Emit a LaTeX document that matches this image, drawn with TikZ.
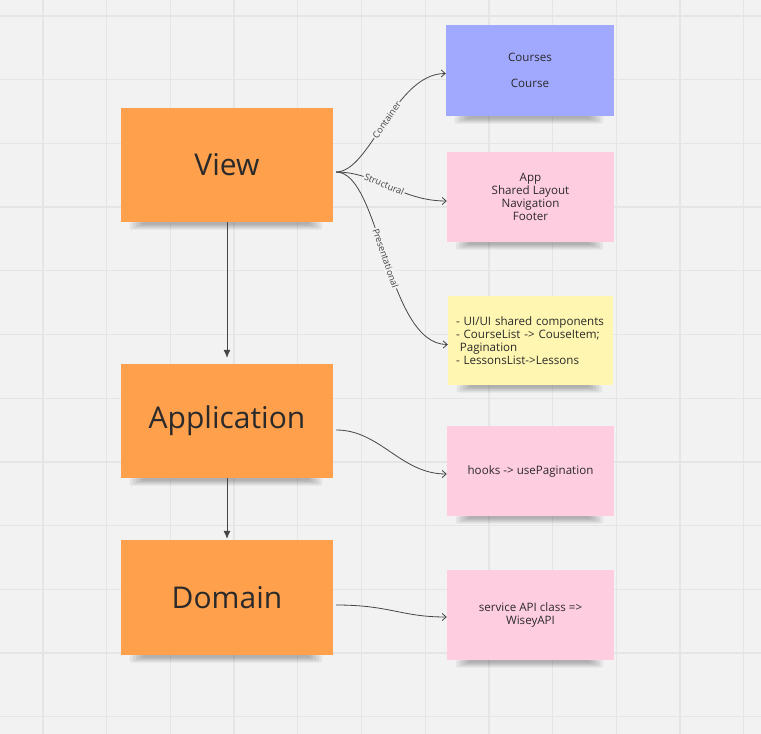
\documentclass[tikz,border=0pt]{standalone}
\usepackage{fontspec}
\setmainfont{Open Sans}
\usetikzlibrary{arrows.meta}
\definecolor{bg}{HTML}{F2F2F2}
\definecolor{gridc}{HTML}{E5E5E5}
\definecolor{orangec}{HTML}{FFA04C}
\definecolor{bluec}{HTML}{A1A9FF}
\definecolor{pinkc}{HTML}{FFCDE0}
\definecolor{yellowc}{HTML}{FFF6B2}
\definecolor{textc}{HTML}{2A2A2A}
\definecolor{linec}{HTML}{454545}
\newcommand{\stickyshadow}[1]{%
  \foreach \k in {1,...,5} {
    \fill[black, opacity=0.06, rounded corners=2pt]
      ([xshift={(6+3*\k)*1pt}]#1.south west) rectangle
      ([xshift={-(8+3*\k)*1pt}, yshift={-(8.5-1.2*\k)*1pt}]#1.south east);
  }%
}
\begin{document}
\begin{tikzpicture}[x=1pt,y=-1pt,
  gridline/.style={gridc, line width=1.3pt},
  sticky/.style={rectangle, inner sep=0pt, text=textc},
  bigbox/.style={sticky, fill=orangec, minimum width=212pt, minimum height=114pt,
    font=\fontsize{30}{34}\selectfont},
  smallbox/.style={sticky, minimum width=167pt, minimum height=90pt, align=center,
    font=\fontsize{11.6}{13.2}\selectfont},
  conn/.style={linec, line width=0.8pt, -{Straight Barb[length=4pt,width=7pt]}},
  vconn/.style={linec, line width=0.8pt, -{Latex[length=8pt,width=7pt]}},
  lbl/.style={fill=bg, inner sep=1pt, text=linec, font=\fontsize{9.2}{10}\selectfont}
]
\fill[bg] (0,0) rectangle (761,734);
\useasboundingbox (0,0) rectangle (761,734);
\foreach \i in {0,...,11} {
  \draw[gridline] ({43+63.7*\i},0) -- ({43+63.7*\i},734);
  \draw[gridline] (0,{16+63.7*\i}) -- (761,{16+63.7*\i});
}

\node[bigbox] (view) at (227,165) {View};
\node[bigbox] (app) at (227,421) {Application};
\node[bigbox, minimum height=115pt] (dom) at (227,597.5) {Domain};

\node[smallbox, fill=bluec, minimum width=168pt, minimum height=91pt] (courses) at (530,70.5) {Courses\\[13.5pt]Course};
\node[smallbox, fill=pinkc] (struct) at (530.5,197) {App\\Shared Layout\\Navigation\\Footer};
\node[smallbox, fill=yellowc, minimum width=165pt, minimum height=89pt, align=left,
  text width=149pt, inner xsep=8pt] (pres) at (530.5,340.5)
  {- UI/UI shared components\\- CourseList -> CouseItem;\\\ Pagination\\- LessonsList->Lessons};
\node[smallbox, fill=pinkc] (hooks) at (530.5,471) {hooks -> usePagination};
\node[smallbox, fill=pinkc] (svc) at (530.5,615) {service API class =>\\WiseyAPI};

\stickyshadow{view}
\stickyshadow{app}
\stickyshadow{dom}
\stickyshadow{courses}
\stickyshadow{struct}
\stickyshadow{pres}
\stickyshadow{hooks}
\stickyshadow{svc}

\coordinate (vo) at ([xshift=3pt,yshift=-7pt]view.east);
\coordinate (ao) at ([xshift=3pt,yshift=-9pt]app.east);
\coordinate (do) at ([xshift=3pt,yshift=-7.5pt]dom.east);

\draw[conn] (vo) .. controls +(34,0) and +(-51,0) .. node[lbl, pos=0.52, sloped] {Container} ([yshift=-3pt]courses.west);
\draw[conn] (vo) .. controls +(40,0) and +(-46,0) .. node[lbl, pos=0.45, sloped] {Structural} ([yshift=-4pt]struct.west);
\draw[conn] (vo) .. controls +(44,0) and +(-61,0) .. node[lbl, pos=0.5, sloped] {Presentational} ([yshift=-4pt]pres.west);
\draw[conn] (ao) .. controls +(44,0) and +(-46,0) .. ([yshift=-3pt]hooks.west);
\draw[conn] (do) .. controls +(54,0) and +(-46,0) .. ([yshift=-2pt]svc.west);

\draw[vconn, shorten >=6pt] (view.south) -- (app.north);
\draw[vconn, shorten >=1pt] (app.south) -- (dom.north);
\end{tikzpicture}
\end{document}
